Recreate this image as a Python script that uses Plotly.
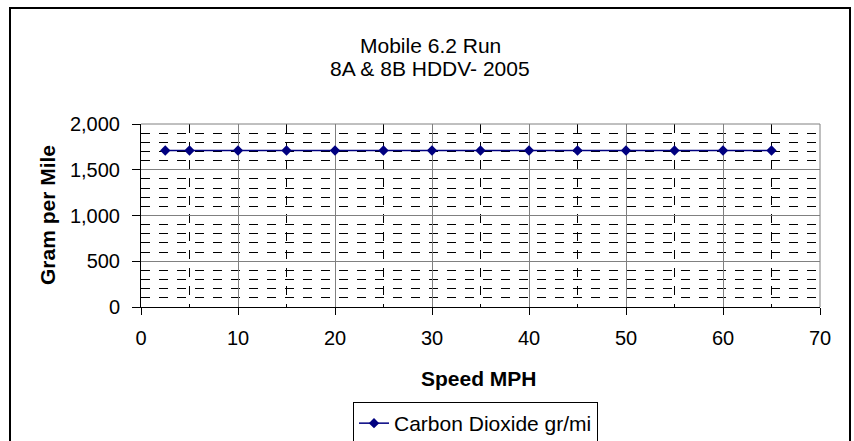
import plotly.graph_objects as go

speed_mph = [2.5, 5, 10, 15, 20, 25, 30, 35, 40, 45, 50, 55, 60, 65]
co2_gr_mi = [1710, 1710, 1710, 1710, 1710, 1710, 1710, 1710, 1710, 1710, 1710, 1710, 1710, 1710]

title_lines = ["Mobile 6.2 Run", "8A & 8B HDDV- 2005"]
series_name = "Carbon Dioxide gr/mi"
x_title = "Speed MPH"
y_title = "Gram per Mile"

FONT = "Liberation Sans, Arial, sans-serif"

fig = go.Figure()
fig.add_trace(go.Scatter(
    x=speed_mph, y=co2_gr_mi, mode="lines+markers", name=series_name,
    line=dict(color="#000080", width=1.5),
    marker=dict(symbol="diamond", size=8, color="#000080"),
))

W, H = 854, 441
L, R, T, B = 141, 34, 124, 134
pw, ph = W - L - R, H - T - B

def px_x(p):
    return (p - L) / pw

def px_y(p):
    return (H - B - p) / ph

fig.update_layout(
    width=W, height=H,
    margin=dict(l=L, r=R, t=T, b=B, autoexpand=False),
    paper_bgcolor="white", plot_bgcolor="white",
    font=dict(family=FONT, size=20, color="black"),
    showlegend=True,
    legend=dict(
        x=px_x(353), y=px_y(423.5), xanchor="left", yanchor="middle",
        bordercolor="black", borderwidth=1, bgcolor="white",
        font=dict(size=21), itemwidth=30, tracegroupgap=0,
    ),
    xaxis=dict(
        range=[0, 70], dtick=10, tick0=0,
        showline=True, linecolor="black", linewidth=1,
        ticks="outside", ticklen=7, tickcolor="black",
        ticklabelstandoff=6,
        showgrid=True, gridcolor="#808080", gridwidth=1,
        minor=dict(dtick=5, showgrid=True, gridcolor="#000000", griddash="dash", gridwidth=1),
        zeroline=False,
    ),
    yaxis=dict(
        range=[0, 2000], dtick=500, tick0=0, tickformat=",",
        showline=True, linecolor="black", linewidth=1,
        ticks="outside", ticklen=8, tickcolor="black",
        ticklabelstandoff=8,
        showgrid=True, gridcolor="#808080", gridwidth=1,
        minor=dict(dtick=100, showgrid=True, gridcolor="#000000", griddash="dash", gridwidth=1),
        zeroline=False,
    ),
    shapes=[
        dict(type="rect", xref="paper", yref="paper",
             x0=px_x(10), x1=px_x(850), y0=px_y(470), y1=px_y(8),
             line=dict(color="black", width=2), layer="below"),
        dict(type="line", xref="paper", yref="paper", x0=0, x1=1, y0=1, y1=1,
             line=dict(color="#808080", width=1)),
        dict(type="line", xref="paper", yref="paper", x0=1, x1=1, y0=0, y1=1,
             line=dict(color="#808080", width=1)),
    ],
    annotations=[
        dict(text=title_lines[0], xref="paper", yref="paper", x=px_x(430), y=px_y(45),
             xanchor="center", yanchor="middle", showarrow=False, font=dict(size=21)),
        dict(text=title_lines[1], xref="paper", yref="paper", x=px_x(430), y=px_y(68),
             xanchor="center", yanchor="middle", showarrow=False, font=dict(size=21)),
        dict(text="<b>" + x_title + "</b>", xref="paper", yref="paper", x=px_x(479), y=px_y(378),
             xanchor="center", yanchor="middle", showarrow=False, font=dict(size=21)),
        dict(text="<b>" + y_title + "</b>", xref="paper", yref="paper", x=px_x(47), y=px_y(215),
             xanchor="center", yanchor="middle", showarrow=False, textangle=-90, font=dict(size=21)),
    ],
)

fig.write_html("out.html", config={"displayModeBar": False},
               post_script="document.body.style.margin='0';")
